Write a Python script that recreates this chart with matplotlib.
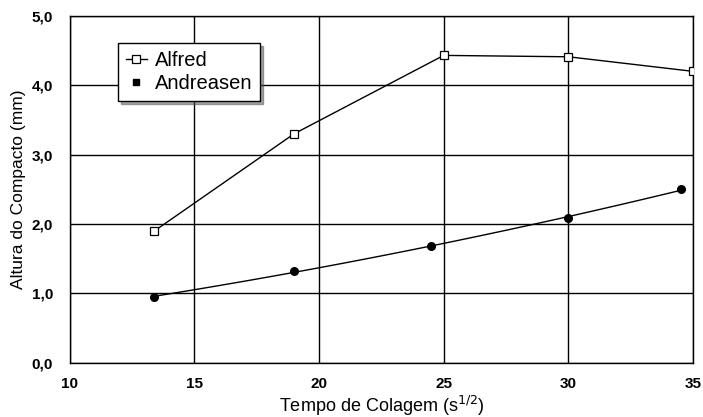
import numpy as np
import matplotlib.pyplot as plt
from matplotlib.ticker import FuncFormatter

plt.rcParams['font.family'] = ['Liberation Sans', 'DejaVu Sans']

# Compact height vs. gluing time
alfred_x = [13.4, 19.0, 25.0, 30.0, 35.0]
alfred_y = [1.90, 3.30, 4.43, 4.41, 4.20]

andreasen_x = [13.4, 19.0, 24.5, 30.0, 34.5]
andreasen_y = [0.95, 1.32, 1.69, 2.08, 2.50]

fig = plt.figure(figsize=(7.03, 4.17), dpi=100)
ax = fig.add_axes([0.099, 0.13, 0.887, 0.832])

ax.plot(alfred_x, alfred_y, color='black', linewidth=1.0, marker='s',
        markersize=5.5, markerfacecolor='white', markeredgecolor='black',
        markeredgewidth=0.9, label='Alfred', zorder=3)

# Andreasen: markers plus a smooth quadratic trend through them
ax.plot(andreasen_x, andreasen_y, linestyle='none', marker='o', markersize=5.5,
        color='black', zorder=3)
coef = np.polyfit(andreasen_x, andreasen_y, 2)
xs = np.linspace(andreasen_x[0], andreasen_x[-1], 100)
ax.plot(xs, np.polyval(coef, xs), color='black', linewidth=1.0, zorder=2)
ax.plot([], [], linestyle='none', marker='s', markersize=5, color='black',
        label='Andreasen')

ax.set_xlim(10, 35)
ax.set_ylim(0, 5)
ax.set_xticks([10, 15, 20, 25, 30, 35])
ax.set_yticks([0, 1, 2, 3, 4, 5])
ax.yaxis.set_major_formatter(FuncFormatter(lambda v, p: f'{v:.1f}'.replace('.', ',')))
ax.grid(True, color='black', linewidth=1.0)
ax.set_axisbelow(True)
for s in ax.spines.values():
    s.set_linewidth(1.0)
ax.tick_params(axis='x', length=0, labelsize=11, pad=10)
ax.tick_params(axis='y', length=0, labelsize=11, pad=12)
for lbl in ax.get_xticklabels() + ax.get_yticklabels():
    lbl.set_fontweight('bold')

ax.set_xlabel('Tempo de Colagem (s$^{1/2}$)', fontsize=13)
ax.xaxis.set_label_coords(0.5, -0.09)
ax.set_ylabel('Altura do Compacto (mm)', fontsize=12.5, labelpad=4)

leg = ax.legend(loc='upper left', bbox_to_anchor=(0.062, 0.95), fontsize=14.5,
                frameon=True, fancybox=False, shadow=True, handlelength=1.0,
                handletextpad=0.4, borderpad=0.4, labelspacing=0.2)
leg.get_frame().set_edgecolor('black')
leg.get_frame().set_linewidth(1.0)

fig.savefig('out.png', dpi=100)
